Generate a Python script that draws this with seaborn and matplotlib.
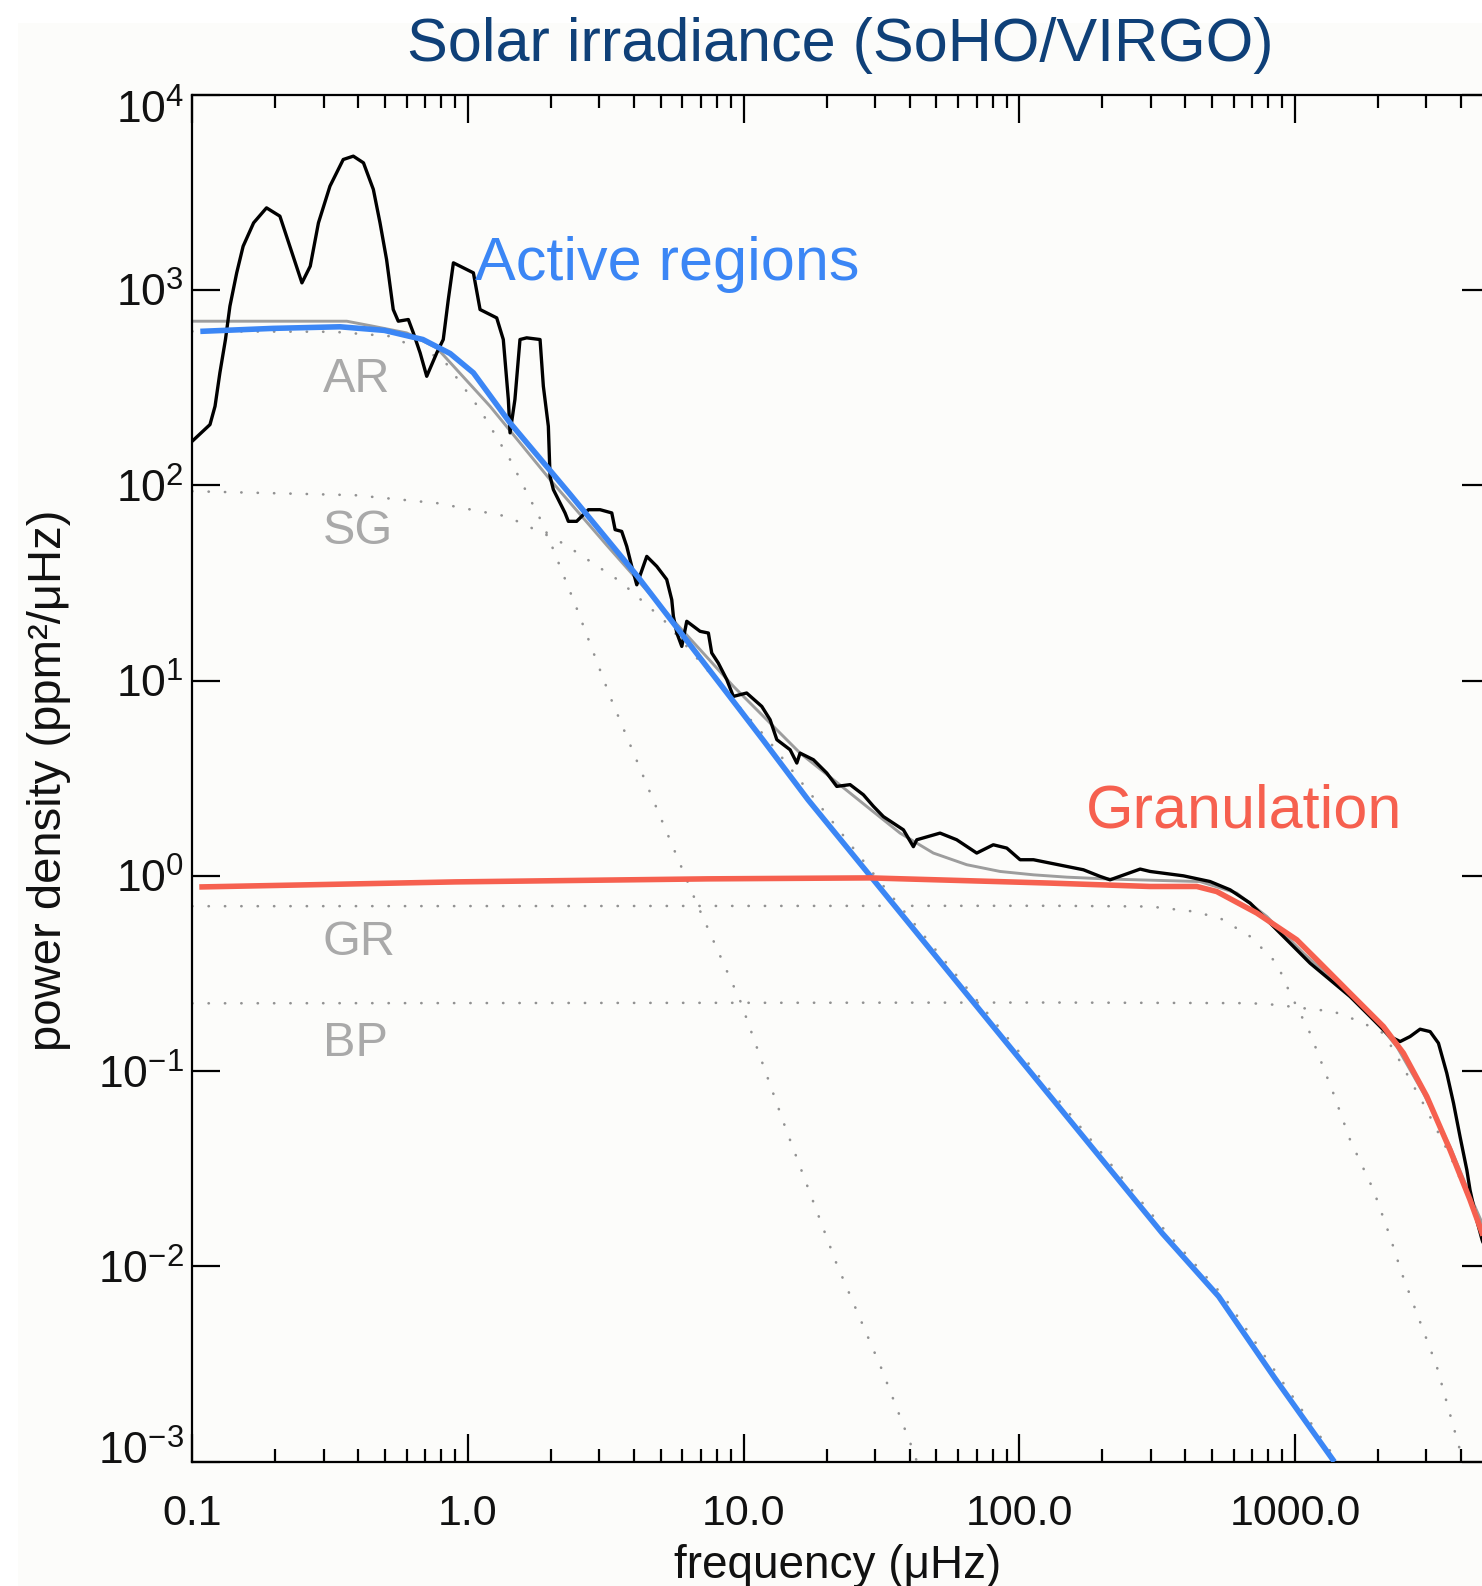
import matplotlib
matplotlib.use("Agg")
import matplotlib.pyplot as plt
import matplotlib.transforms as mtransforms
import pandas as pd
import seaborn as sns
from matplotlib.patches import Rectangle
from matplotlib.ticker import FixedLocator, FixedFormatter, LogLocator, NullLocator, NullFormatter

# ---- observed VIRGO power spectrum (frequency in muHz, power in ppm^2/muHz)
spec_freq = [0.100, 0.116, 0.121, 0.126, 0.132, 0.137, 0.145, 0.153, 0.167, 0.186,
             0.208, 0.226, 0.250, 0.268, 0.287, 0.316, 0.353, 0.384, 0.418, 0.454,
             0.480, 0.507, 0.536, 0.559, 0.608, 0.634, 0.671, 0.709, 0.771, 0.814,
             0.849, 0.886, 0.990, 1.047, 1.107, 1.203, 1.272, 1.344, 1.402, 1.422,
             1.481, 1.545, 1.634, 1.827, 1.878, 1.958, 1.986, 2.042, 2.251, 2.314,
             2.480, 2.736, 3.016, 3.326, 3.42, 3.613, 3.769, 3.929, 4.098, 4.455,
             4.843, 5.262, 5.489, 5.564, 5.727, 5.969, 6.221, 6.953, 7.453, 7.664,
             8.095, 8.693, 9.182, 10.26, 11.64, 12.48, 13.20, 14.75, 15.60, 16.03,
             17.92, 20.03, 21.78, 24.34, 27.2, 29.57, 32.15, 34.96, 38.0, 41.3,
             42.5, 51.6, 59.3, 70.1, 80.5, 90.1, 100.7, 112.6, 129.4, 148.7,
             170.9, 196.5, 213.5, 274.5, 298.2, 394.1, 492.2, 582, 687.8, 812.3,
             960, 1135, 1341, 1585, 1874, 2213, 2408, 2616, 2844, 3093,
             3315, 3555, 3760, 3971, 4203, 4317, 4564, 4775, 5100]
spec_power = [167.9, 204.3, 253.6, 376, 556.8, 824.4, 1222, 1672, 2203, 2629,
              2384, 1672, 1086, 1322, 2203, 3397, 4649, 4836, 4470, 3266,
              2203, 1430, 793, 691, 705, 602, 475.6, 361, 475.6, 556.8,
              892, 1375, 1271, 1222, 793, 747, 718.6, 556.8, 274.4, 185.3,
              274.4, 556.8, 568, 556.8, 321, 200.3, 111.1, 94.9, 72.1, 65.3,
              65.3, 74.9, 74.9, 72.1, 59.2, 58.0, 48.6, 38.4, 30.9, 43.2,
              38.4, 32.9, 25.9, 21.3, 17.5, 14.95, 20.1, 17.86, 17.5, 13.84,
              12.29, 10.1, 8.29, 8.63, 7.37, 6.30, 4.98, 4.42, 3.78, 4.25,
              3.93, 3.36, 2.87, 2.93, 2.60, 2.27, 2.01, 1.86, 1.72, 1.41,
              1.53, 1.655, 1.53, 1.308, 1.442, 1.387, 1.209, 1.209, 1.162, 1.116,
              1.074, 0.993, 0.954, 1.083, 1.053, 1.0, 0.935, 0.848, 0.725, 0.573,
              0.452, 0.357, 0.2934, 0.241, 0.1905, 0.1504, 0.1418, 0.1504, 0.164, 0.1594,
              0.1392, 0.0976, 0.0686, 0.0462, 0.0312, 0.0246, 0.0173, 0.01367, 0.0105]

# ---- total background fit
total_freq = [0.1, 0.3635, 0.4537, 0.5998, 0.7709, 1.2033, 1.986, 3.2, 5.396, 6.953,
              9.19, 12.14, 16.03, 21.18, 27.97, 36.97, 48.8, 64.5, 85.2, 112.6,
              148.7, 213.5, 452.7, 615, 790.7, 1073, 1418, 1822, 2342, 2925,
              3653, 4439, 4775, 5100]
total_power = [691, 691, 651, 602, 505, 253.6, 106.8, 49, 21.3, 14.39,
               9.33, 6.295, 4.25, 3.106, 2.266, 1.654, 1.308, 1.14, 1.053, 1.012,
               0.9846, 0.9625, 0.935, 0.816, 0.619, 0.4018, 0.2823, 0.206, 0.1336, 0.0771,
               0.0411, 0.0211, 0.0167, 0.0130]

# ---- individual Harvey components (dotted)
ar_freq = [0.1, 0.3265, 0.5216, 0.814, 1.107, 1.422, 1.892, 2.495, 3.282, 4.634,
           6.699, 9.757, 14.21, 21.69, 31.59, 40.9, 45]
ar_power = [613, 610, 579, 440, 243.8, 135.2, 61.2, 22.96, 8.245, 2.566,
            0.7447, 0.2264, 0.051, 0.01042, 0.003015, 0.001175, 0.0008]

sg_freq = [0.1, 0.3888, 0.774, 1.384, 2.1, 2.348, 3.565, 5.117, 12.25, 29.6,
           84.3, 344.8, 552, 881, 1413, 1500]
sg_power = [93.1, 88.9, 80.9, 69.2, 52.6, 47.7, 32.2, 20.5, 4.98, 1.024,
            0.168, 0.01476, 0.00702, 0.00269, 0.001024, 0.0009]

gr_freq = [0.1, 129.4, 298.2, 428, 535, 687.8, 859, 960, 1135, 1378,
           1585, 1927, 2213, 2441, 3265, 4032, 4300]
gr_power = [0.699, 0.7025, 0.6966, 0.657, 0.6072, 0.4894, 0.357, 0.2506, 0.1564, 0.0771,
            0.0445, 0.02464, 0.01422, 0.00923, 0.0031, 0.00106, 0.0007]

bp_freq = [0.1, 129.4, 687.8, 859, 1073, 1378, 1723, 2093, 2342, 2925,
           3653, 4439, 5100]
bp_power = [0.2225, 0.2246, 0.2229, 0.2185, 0.21, 0.202, 0.1795, 0.1564, 0.12, 0.068,
            0.037, 0.0195, 0.0122]

# ---- highlighted profiles
active_freq = [0.107, 0.1966, 0.3434, 0.498, 0.6866, 0.8625, 1.047, 1.42, 2.348, 4.12,
               11.74, 17.13, 28.4, 80.8, 330.6, 529, 844, 1390]
active_power = [613, 635, 647, 620, 557, 472, 376, 209, 89.8, 34.2,
                4.98, 2.453, 1.024, 0.168, 0.01476, 0.00702, 0.00269, 0.001]

gran_freq = [0.1061, 0.8997, 7.44, 28.7, 129.4, 298.2, 440.6, 520.3, 727, 1015,
             1201, 1585, 2093, 2474, 3008, 3653, 4314, 4775, 5100]
gran_power = [0.877, 0.931, 0.965, 0.976, 0.918, 0.882, 0.882, 0.831, 0.645, 0.4706,
              0.3715, 0.2506, 0.1693, 0.1237, 0.0742, 0.0395, 0.02198, 0.01483, 0.0114]

# ---- ticks and labels
x_tick_values = [0.1, 1.0, 10.0, 100.0, 1000.0]
x_tick_labels = ["0.1", "1.0", "10.0", "100.0", "1000.0"]
y_tick_values = [1e-3, 1e-2, 1e-1, 1e0, 1e1, 1e2, 1e3, 1e4]
y_tick_labels = [r"$\mathregular{10^{-3}}$", r"$\mathregular{10^{-2}}$",
                 r"$\mathregular{10^{-1}}$", r"$\mathregular{10^{0}}$",
                 r"$\mathregular{10^{1}}$", r"$\mathregular{10^{2}}$",
                 r"$\mathregular{10^{3}}$", r"$\mathregular{10^{4}}$"]

component_labels = ["AR", "SG", "GR", "BP"]
component_label_freq = [0.297, 0.297, 0.297, 0.297]
component_label_power = [299.7, 50.1, 0.3944, 0.1196]

sns.set_theme(style="ticks")
plt.rcParams["font.family"] = ["Liberation Sans", "DejaVu Sans"]
plt.rcParams["mathtext.fontset"] = "custom"
plt.rcParams["mathtext.rm"] = "Liberation Sans"

fig = plt.figure(figsize=(14.82, 15.86), dpi=100)
fig.patch.set_facecolor("white")
fig.add_artist(Rectangle((18 / 1482, 0), 1.0, 1 - 23 / 1586, transform=fig.transFigure,
                         facecolor="#fcfcfa", edgecolor="none", zorder=-5))

ax = fig.add_axes([0.1297, 0.0783, 0.8757, 0.8621])
ax.set_facecolor("none")
ax.set_xscale("log")
ax.set_yscale("log")


def draw(freq, power, **kws):
    df = pd.DataFrame({"freq": freq, "power": power})
    sns.lineplot(data=df, x="freq", y="power", ax=ax, estimator=None, sort=False, **kws)


dot_style = dict(color="#929292", linewidth=1.9, linestyle=(0, (0.1, 6.1)),
                 dash_capstyle="round", zorder=1)
for fq, pw in [(ar_freq, ar_power), (sg_freq, sg_power), (gr_freq, gr_power), (bp_freq, bp_power)]:
    draw(fq, pw, **dot_style)

draw(total_freq, total_power, color="#9d9d9d", linewidth=2.1, zorder=2)
draw(spec_freq, spec_power, color="black", linewidth=2.4, zorder=3)
draw(active_freq, active_power, color="#3b86f5", linewidth=4.0, zorder=4,
     solid_capstyle="butt")
draw(gran_freq, gran_power, color="#f6604f", linewidth=4.0, zorder=4,
     solid_capstyle="butt")

ax.set_xlim(0.1, 5100)
ax.set_ylim(1e-3, 1e4)
ax.set_xlabel("")
ax.set_ylabel("")

ax.xaxis.set_major_locator(FixedLocator(x_tick_values))
ax.xaxis.set_major_formatter(FixedFormatter(x_tick_labels))
ax.xaxis.set_minor_locator(LogLocator(base=10, subs=range(2, 10), numticks=100))
ax.xaxis.set_minor_formatter(NullFormatter())
ax.yaxis.set_major_locator(FixedLocator(y_tick_values))
ax.yaxis.set_major_formatter(FixedFormatter(y_tick_labels))
ax.yaxis.set_minor_locator(NullLocator())

ax.tick_params(which="both", direction="in", top=True, right=True, color="black", width=1.6)
ax.tick_params(which="major", length=20)
ax.tick_params(which="minor", length=9.7)
ax.tick_params(axis="x", which="major", pad=23, labelsize=31, labelcolor="#111111")
ax.tick_params(axis="y", which="major", pad=6, labelsize=32, labelcolor="#111111")
for side in ["left", "right", "top", "bottom"]:
    ax.spines[side].set_linewidth(1.6)
    ax.spines[side].set_color("black")
    ax.spines[side].set_visible(True)

# keep the end labels of the power axis inside the frame
fig.canvas.draw()
yticks = ax.yaxis.get_major_ticks()
yticks[0].label1.set_transform(yticks[0].label1.get_transform() +
                               mtransforms.ScaledTranslation(0, 10 / 72, fig.dpi_scale_trans))
yticks[-1].label1.set_transform(yticks[-1].label1.get_transform() +
                                mtransforms.ScaledTranslation(0, -9 / 72, fig.dpi_scale_trans))

for lab, fq, pw in zip(component_labels, component_label_freq, component_label_power):
    ax.text(fq, pw, lab, color="#a9a9a9", fontsize=35, ha="left", va="baseline", zorder=5)

ax.text(1.065, 1127, "Active regions", color="#3b86f5", fontsize=44,
        ha="left", va="baseline", zorder=6)
ax.text(174, 1.773, "Granulation", color="#f6604f", fontsize=44,
        ha="left", va="baseline", zorder=6)

fig.text(0.5668, 0.9617, "Solar irradiance (SoHO/VIRGO)", color="#0f4078",
         fontsize=44, ha="center", va="baseline")
fig.text(0.5652, 0.0128, "frequency (\u03bcHz)", color="#111111", fontsize=33,
         ha="center", va="center")
fig.text(0.0328, 0.5079, "power density (ppm\u00b2/\u03bcHz)", color="#111111",
         fontsize=34, rotation=90, ha="center", va="center")

fig.savefig("out.png", dpi=100, facecolor=fig.get_facecolor())
